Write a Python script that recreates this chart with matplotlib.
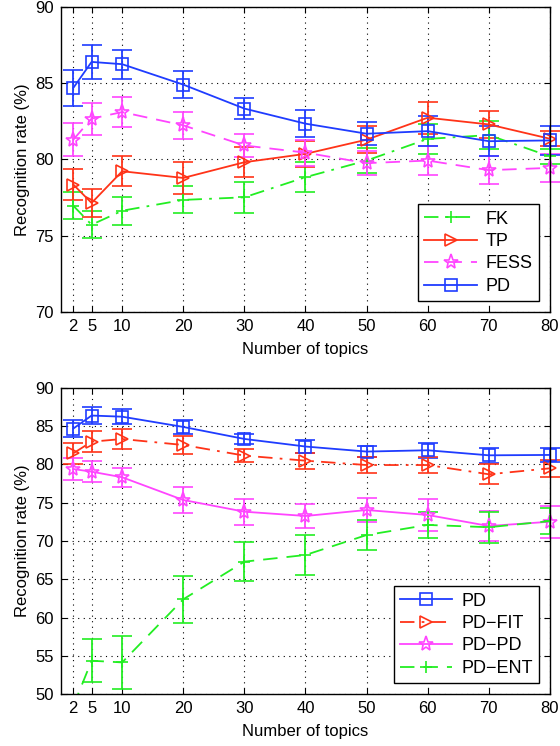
import matplotlib
matplotlib.use("Agg")
import matplotlib.pyplot as plt

plt.rcParams['font.family'] = ['Liberation Sans', 'DejaVu Sans']

topics = [2, 5, 10, 20, 30, 40, 50, 60, 70, 80]
xtick_labels = ['2', '5', '10', '20', '30', '40', '50', '60', '70', '80']

# Top panel
fk = [76.97, 75.72, 76.64, 77.35, 77.52, 78.84, 79.93, 81.35, 81.6, 80.2]
fk_err = [0.88, 0.87, 0.93, 0.88, 1.02, 0.98, 0.8, 1.0, 0.9, 0.5]
tp = [78.36, 77.15, 79.23, 78.79, 79.82, 80.37, 81.3, 82.74, 82.3, 81.36]
tp_err = [1.0, 0.93, 1.0, 1.05, 1.0, 0.85, 0.9, 1.05, 0.9, 0.5]
fess = [81.3, 82.68, 83.11, 82.24, 80.92, 80.45, 79.76, 79.93, 79.3, 79.45]
fess_err = [1.1, 1.05, 0.97, 0.88, 0.75, 0.85, 0.8, 0.95, 0.9, 0.9]
pd = [84.69, 86.4, 86.25, 84.91, 83.34, 82.35, 81.69, 81.86, 81.2, 81.25]
pd_err = [1.15, 1.1, 0.95, 0.88, 0.68, 0.87, 0.77, 1.0, 1.0, 0.95]

# Bottom panel
pd_fit = [81.46, 82.98, 83.33, 82.55, 81.16, 80.5, 79.93, 79.93, 78.72, 79.5]
pd_fit_err = [1.4, 1.37, 1.27, 1.15, 0.88, 1.05, 1.0, 1.1, 1.3, 1.1]
pd_pd = [79.41, 79.06, 78.33, 75.36, 73.83, 73.27, 74.05, 73.4, 71.96, 72.52]
pd_pd_err = [1.42, 1.37, 1.27, 1.7, 1.7, 1.63, 1.57, 2.07, 2.0, 2.1]
pd_ent = [48.4, 54.35, 54.13, 62.38, 67.3, 68.17, 70.78, 72.1, 71.8, 72.6]
pd_ent_err = [1.2, 2.8, 3.45, 3.1, 2.55, 2.6, 1.9, 1.75, 2.0, 1.7]

BLUE = '#1f3cff'
RED = '#ff3318'
MAG = '#ff45ff'
GREEN = '#22ee22'

fig = plt.figure(figsize=(5.6, 7.46), dpi=100)
ax1 = fig.add_axes([0.109, 0.5818, 0.873, 0.4088])
ax2 = fig.add_axes([0.109, 0.0697, 0.873, 0.4102])

MS = {'s': 8, '>': 9, '*': 11, '+': 9}

def series(ax, y, e, color, marker, ls, label, dashes=None, clip=False):
    c = ax.errorbar(topics, y, yerr=e, color=color, marker=marker, ls=ls,
                    capsize=7, elinewidth=1.3, capthick=1.3, lw=1.3,
                    ms=MS[marker], mfc='none', mew=1.2)
    line = c.lines[0]
    line.set_label(label)
    if dashes is not None:
        line.set_dashes(dashes)
    if not clip:
        line.set_clip_on(False)
        for cap in c.lines[1]:
            cap.set_clip_on(False)
        for b in c.lines[2]:
            b.set_clip_on(False)
    return line

h1 = [
    series(ax1, fk, fk_err, GREEN, '+', '-.', 'FK', dashes=[8, 4, 1.5, 4]),
    series(ax1, tp, tp_err, RED, '>', '-', 'TP'),
    series(ax1, fess, fess_err, MAG, '*', '--', 'FESS', dashes=[8, 5]),
    series(ax1, pd, pd_err, BLUE, 's', '-', 'PD'),
]
h2 = [
    series(ax2, pd, pd_err, BLUE, 's', '-', 'PD'),
    series(ax2, pd_fit, pd_fit_err, RED, '>', '-.', 'PD\u2212FIT', dashes=[8, 4, 1.5, 4]),
    series(ax2, pd_pd, pd_pd_err, MAG, '*', '-', 'PD\u2212PD'),
    series(ax2, pd_ent, pd_ent_err, GREEN, '+', '--', 'PD\u2212ENT', dashes=[8, 5], clip=True),
]

for ax, handles, ylim, yt in [(ax1, h1, (70, 90), range(70, 91, 5)),
                              (ax2, h2, (50, 90), range(50, 91, 5))]:
    ax.set_xlim(0, 80)
    ax.set_ylim(*ylim)
    ax.set_xticks(topics)
    ax.set_xticklabels(xtick_labels)
    ax.set_yticks(list(yt))
    ax.tick_params(direction='in', top=True, right=True, labelsize=12, length=4, width=0.8, pad=5)
    ax.grid(True, ls=(0, (1, 4)), color='black', lw=0.8)
    for s in ax.spines.values():
        s.set_linewidth(1.0)
        s.set_zorder(5)
    ax.set_xlabel('Number of topics', fontsize=12, labelpad=6)
    ax.set_ylabel('Recognition rate (%)', fontsize=12, labelpad=4)
    leg = ax.legend(handles=handles, loc='lower right', fontsize=13, handlelength=2.9, fancybox=False,
                    edgecolor='black', framealpha=1, borderaxespad=0.6,
                    labelspacing=0.3, handletextpad=0.5, borderpad=0.35)
    leg.get_frame().set_linewidth(1.0)
    leg.set_zorder(10)

fig.savefig('out.png', dpi=100)
